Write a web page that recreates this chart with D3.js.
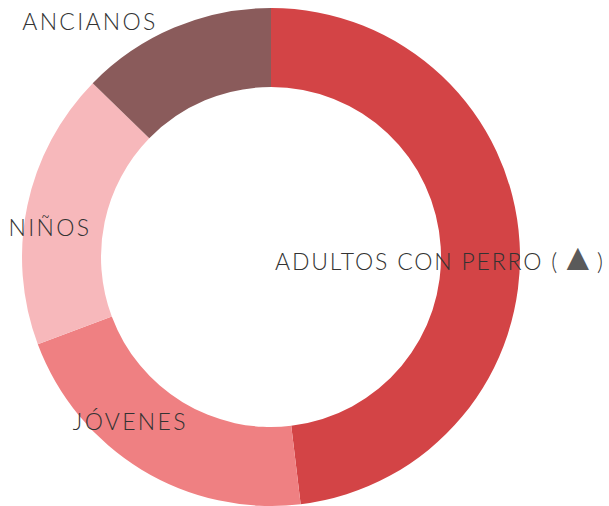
<!DOCTYPE html>
<html><head><meta charset="utf-8">
<script src="https://cdn.jsdelivr.net/npm/d3@7"></script>
<style>body{margin:0;background:#fff}svg{display:block}</style>
</head><body>
<svg id="c" width="609" height="506"></svg>
<script>
const categories = ["ADULTOS CON PERRO", "JÓVENES", "NIÑOS", "ANCIANOS"];
const values = [48.1, 21.2, 18.0, 12.7];
const colors = ["#D34446", "#EF8082", "#F7B8BB", "#8A5B5B"];

const svg = d3.select("#c");
const cx = 271, cy = 257, R = 249, r0 = 170;
const g = svg.append("g").attr("transform", `translate(${cx},${cy})`);
const pie = d3.pie().sort(null).value(d => d.v)(categories.map((c, i) => ({c, v: values[i], col: colors[i]})));
const arc = d3.arc().innerRadius(r0).outerRadius(R);
g.selectAll("path").data(pie).join("path").attr("d", arc).attr("fill", d => d.data.col);

// label placement: [angle offset in deg from slice mid, radius]
const labelPos = [[5.1, 169], [9.1, 217], [-4.4, 223], [-14.7, 297]];
pie.forEach((d, i) => {
  const mid = (d.startAngle + d.endAngle) / 2 + labelPos[i][0] * Math.PI / 180;
  const rr = labelPos[i][1];
  const x = rr * Math.sin(mid), y = -rr * Math.cos(mid);
  const t = g.append("text").attr("x", x).attr("y", y).attr("dy", "0.36em")
    .attr("text-anchor", "middle")
    .attr("font-family", "Lato, 'DejaVu Sans', sans-serif").attr("font-weight", 300)
    .attr("font-size", 23).attr("letter-spacing", 2.3).attr("fill", "#333333");
  if (i === 0) {
    t.attr("letter-spacing", 1.8);
    t.append("tspan").text(d.data.c + " (");
    t.append("tspan").attr("fill", "#5a5a5a").attr("font-family", "'DejaVu Sans'")
      .attr("font-size", 38).attr("letter-spacing", 0.5).text("▲");
    t.append("tspan").text(")");
  } else {
    t.append("tspan").text(d.data.c);
  }
});
</script>
</body></html>
